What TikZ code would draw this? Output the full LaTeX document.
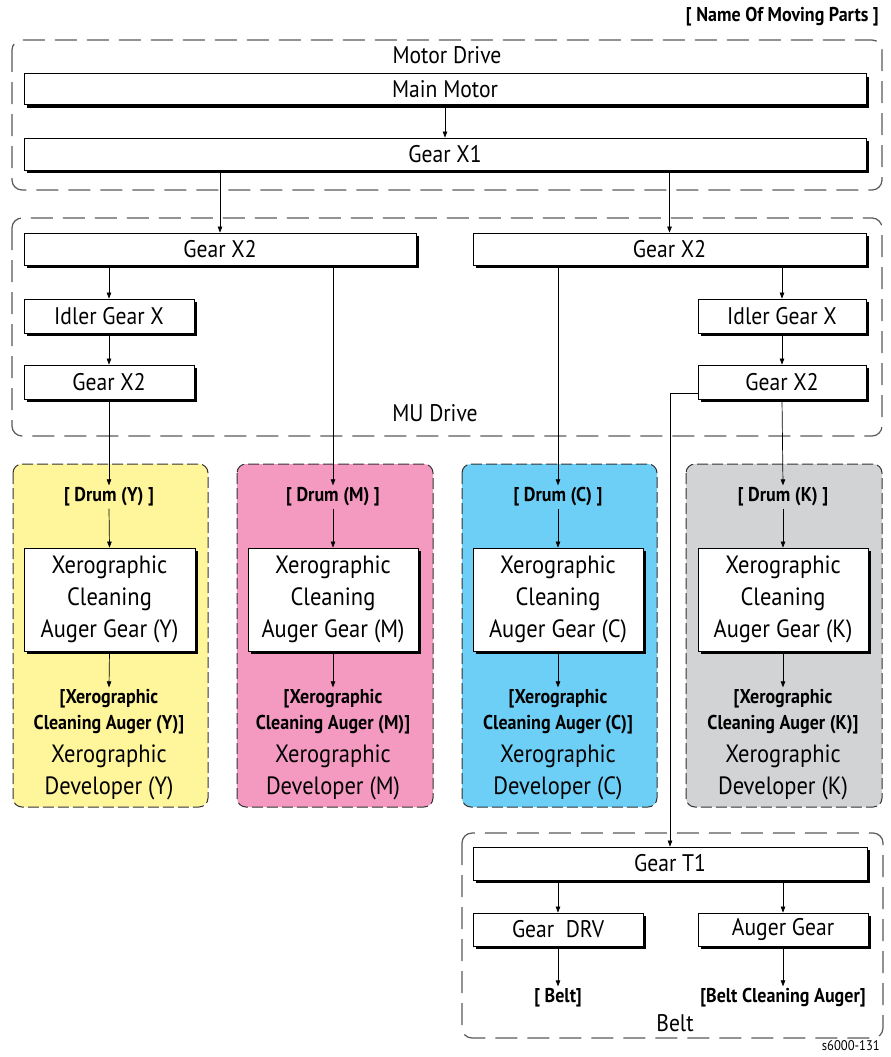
\documentclass[tikz,border=0pt]{standalone}
\usepackage{fontspec}
\setmainfont{PT Sans}[FakeStretch=0.9]
\usetikzlibrary{arrows.meta,shadows}
\definecolor{pY}{HTML}{FFF59B}
\definecolor{pM}{HTML}{F49AC1}
\definecolor{pC}{HTML}{6DCFF6}
\definecolor{pK}{HTML}{D1D3D4}
\begin{document}
\begin{tikzpicture}[x=1pt,y=-1pt,
  gbox/.style={draw=black, line width=0.8pt, fill=white, inner sep=0pt,
    font=\fontsize{24}{28}\selectfont,
    drop shadow={shadow xshift=3pt, shadow yshift=-3pt, fill=black, opacity=1}},
  xbox/.style={gbox, align=center, font=\fontsize{25}{32}\selectfont},
  group/.style={draw=black!65, line width=1.2pt, dash pattern=on 22pt off 10pt, rounded corners=10pt},
  panel/.style={draw=black!80, line width=1pt, dash pattern=on 11pt off 4pt, rounded corners=9pt},
  glabel/.style={font=\fontsize{24}{28}\selectfont, inner sep=0pt},
  blab/.style={font=\bfseries\fontsize{20}{26}\selectfont, align=center, inner sep=2pt},
  dlab/.style={font=\fontsize{25}{32}\selectfont, align=center, inner sep=0pt},
  arr/.style={-{Triangle[length=6pt,width=4.5pt]}, line width=0.7pt}]
\useasboundingbox (0,0) rectangle (891,1057);

% colored panels
\draw[panel, fill=pY] (13,464) rectangle (208,807);
\draw[panel, fill=pM] (237,464) rectangle (433,807);
\draw[panel, fill=pC] (462,464) rectangle (657,807);
\draw[panel, fill=pK] (686,464) rectangle (882,807);

% group frames
\draw[group] (12,40) rectangle (882,190);
\draw[group] (12,218) rectangle (882,436);
\draw[group] (462,833) rectangle (883,1038);

\node[font=\bfseries\fontsize{20}{24}\selectfont, anchor=east, inner sep=0pt] (title) at (879,17) {[ Name Of Moving Parts ]};
\node[glabel] (lmotor) at (447,55) {Motor Drive};
\node[glabel] (lmu) at (435,413) {MU Drive};
\node[glabel] (lbelt) at (675,1023) {Belt};
\node[font=\fontsize{14}{16}\selectfont, anchor=east, inner sep=0pt] (code) at (880,1046) {s6000-131};

% boxes
\node[gbox, minimum width=842pt, minimum height=31pt] (main) at (445,89) {Main Motor};
\node[gbox, minimum width=842pt, minimum height=32pt] (gx1) at (445,154) {Gear X1};
\node[gbox, minimum width=392pt, minimum height=32pt] (gx2L) at (220,249) {Gear X2};
\node[gbox, minimum width=393pt, minimum height=32pt] (gx2R) at (669.5,249) {Gear X2};
\node[gbox, minimum width=170pt, minimum height=34pt] (idlL) at (109,316) {Idler Gear X};
\node[gbox, minimum width=170pt, minimum height=34pt] (gsL) at (109,382) {Gear X2};
\node[gbox, minimum width=168pt, minimum height=34pt] (idlR) at (782,316) {Idler Gear X};
\node[gbox, minimum width=168pt, minimum height=34pt] (gsR) at (782,382) {Gear X2};

% drum labels
\node[blab] (drY) at (109,497) {[ Drum (Y) ]};
\node[blab] (drM) at (333,497) {[ Drum (M) ]};
\node[blab] (drC) at (558,497) {[ Drum (C) ]};
\node[blab] (drK) at (783,497) {[ Drum (K) ]};

% xerographic boxes
\node[xbox, minimum width=171pt, minimum height=103pt] (xY) at (109.5,599.5) {Xerographic\\Cleaning\\Auger Gear (Y)};
\node[xbox, minimum width=170pt, minimum height=103pt] (xM) at (333,599.5) {Xerographic\\Cleaning\\Auger Gear (M)};
\node[xbox, minimum width=170pt, minimum height=103pt] (xC) at (558,599.5) {Xerographic\\Cleaning\\Auger Gear (C)};
\node[xbox, minimum width=170pt, minimum height=103pt] (xK) at (783,599.5) {Xerographic\\Cleaning\\Auger Gear (K)};

% auger labels
\node[blab] (aY) at (109,712) {[Xerographic\\Cleaning Auger (Y)]};
\node[blab] (aM) at (333,712) {[Xerographic\\Cleaning Auger (M)]};
\node[blab] (aC) at (558,712) {[Xerographic\\Cleaning Auger (C)]};
\node[blab] (aK) at (783,712) {[Xerographic\\Cleaning Auger (K)]};

% developer labels
\node[dlab] (dY) at (109,772) {Xerographic\\Developer (Y)};
\node[dlab] (dM) at (333,772) {Xerographic\\Developer (M)};
\node[dlab] (dC) at (558,772) {Xerographic\\Developer (C)};
\node[dlab] (dK) at (783,772) {Xerographic\\Developer (K)};

% belt section
\node[gbox, minimum width=394pt, minimum height=33pt] (gT1) at (670,863.5) {Gear T1};
\node[gbox, minimum width=170pt, minimum height=33pt] (gDRV) at (558,929.5) {Gear\ \ DRV};
\node[gbox, minimum width=170pt, minimum height=33pt] (gAug) at (783,929.5) {Auger Gear};
\node[blab] (bBelt) at (558,998) {[ Belt]};
\node[blab] (bAug) at (783,998) {[Belt Cleaning Auger]};

% connectors
\draw[arr] (main) -- (gx1);
\draw[arr] (gx2L.north |- gx1.south) -- (gx2L.north);
\draw[arr] (gx2R.north |- gx1.south) -- (gx2R.north);
\draw[arr] (idlL.north |- gx2L.south) -- (idlL.north);
\draw[arr] (idlL) -- (gsL);
\draw[arr] (idlR.north |- gx2R.south) -- (idlR.north);
\draw[arr] (idlR) -- (gsR);
\draw[arr] (gsL.south) -- (drY.north);
\draw[arr] (drM.north |- gx2L.south) -- (drM.north);
\draw[arr] (drC.north |- gx2R.south) -- (drC.north);
\draw[arr] (gsR.south) -- (drK.north);
\foreach \c in {Y,M,C,K}{
  \draw[arr] (dr\c.south) -- (x\c.north);
  \draw[arr] (x\c.south) -- (a\c.north);
}
\draw[arr] ([yshift=-11pt]gsR.west) -| (gT1.north);
\draw[arr] (gDRV.north |- gT1.south) -- (gDRV.north);
\draw[arr] (gAug.north |- gT1.south) -- (gAug.north);
\draw[arr] (gDRV.south) -- (bBelt.north);
\draw[arr] (gAug.south) -- (bAug.north);
\end{tikzpicture}
\end{document}
